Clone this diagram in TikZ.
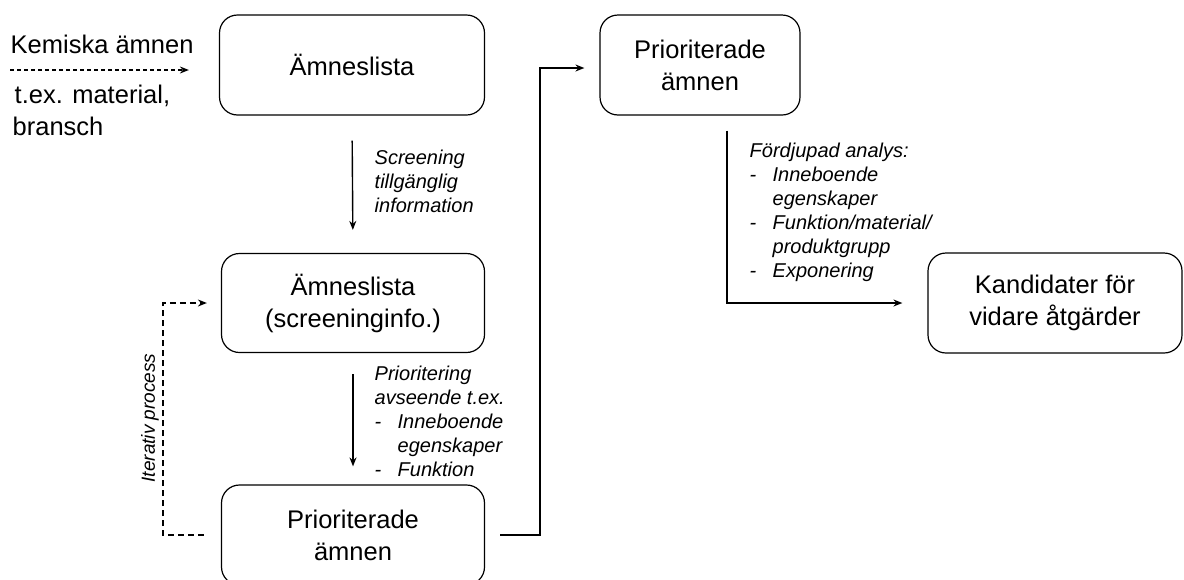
\documentclass[tikz,border=0pt]{standalone}
\usepackage{fontspec}
\setmainfont{Liberation Sans}
\usetikzlibrary{arrows.meta,positioning}
\newcommand{\itm}[1]{\makebox[23pt][l]{-}#1}
\newcommand{\ind}{\hspace*{23pt}}

\begin{document}
\begin{tikzpicture}[x=1pt, y=-1pt, line width=1.4pt, >={Stealth[length=9pt,width=7pt]},
  box/.style={draw, line width=1.2pt, rounded corners=18pt, align=center, inner sep=0pt, font=\fontsize{25.5}{32}\selectfont},
  lbl/.style={anchor=west, align=left, inner sep=0pt, font=\fontsize{20}{24}\selectfont\itshape},
  txt/.style={anchor=west, inner sep=0pt, font=\fontsize{25.5}{30}\selectfont}]
\useasboundingbox (0,0) rectangle (1184,579);

\node[box, minimum width=265pt, minimum height=100pt] (lista) at (352,65) {Ämneslista};
\node[box, minimum width=263pt, minimum height=99pt] (screen) at (353,303) {Ämneslista\\(screeninginfo.)};
\node[box, minimum width=263pt, minimum height=100pt] (prio1) at (353,535) {Prioriterade\\ämnen};
\node[box, minimum width=200pt, minimum height=100pt] (prio2) at (700,65) {Prioriterade\\ämnen};
\node[box, minimum width=254pt, minimum height=100pt] (kand) at (1055,303) {Kandidater för\\vidare åtgärder};

\node[txt] (kem) at (10,44) {Kemiska ämnen};
\node[txt] (tex) at (14,96) {t.ex. material,};
\node[txt] (bransch) at (12,126) {bransch};
\coordinate (src) at (10,70);
\draw[->, line width=1.2pt, dash pattern=on 4pt off 3pt, shorten >=30pt] (src) -- ([yshift=-5pt]lista.west);

\draw[->, shorten <=25pt, shorten >=23pt] (lista.south) -- (screen.north);
\node[lbl] (scrlbl) at (374,181) {Screening\\tillgänglig\\information};

\draw[->, shorten <=21pt, shorten >=18pt] (screen.south) -- (prio1.north);
\node[lbl] (priolbl) at (374,421) {Prioritering\\avseende t.ex.\\\itm{Inneboende}\\\ind egenskaper\\\itm{Funktion}};

\draw[->, dash pattern=on 6pt off 4pt, shorten <=17pt, shorten >=14pt] (prio1.west) -- ++(-58,0) |- (screen.west);
\node[lbl, anchor=center, rotate=90, font=\fontsize{19}{23}\selectfont\itshape] (iter) at (150,418) {Iterativ process};

\draw[->, shorten <=15pt, shorten >=15pt] (prio1.east) -- ++(55,0) |- ([yshift=-3pt]prio2.west);

\draw[->, shorten <=15pt, shorten >=25pt] ([xshift=27pt]prio2.south) |- (kand.west);
\node[lbl] (fordlbl) at (749,212) {Fördjupad analys:\\\itm{Inneboende}\\\ind egenskaper\\\itm{Funktion/material/}\\\ind produktgrupp\\\itm{Exponering}};
\end{tikzpicture}
\end{document}
